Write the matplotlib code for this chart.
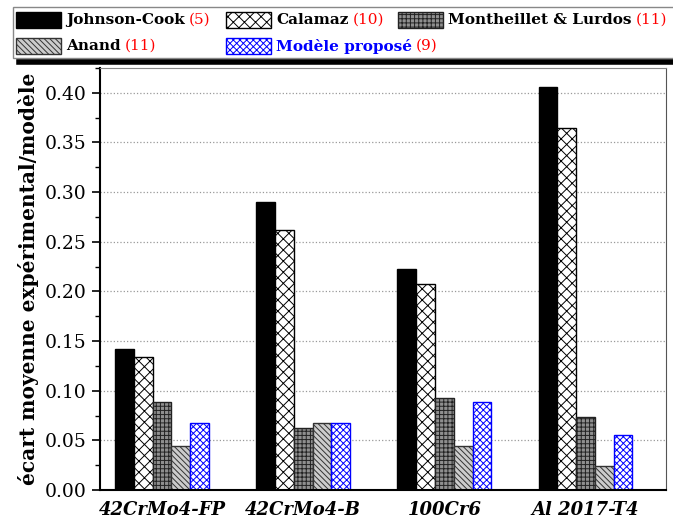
import numpy as np
import matplotlib.pyplot as plt
from matplotlib.patches import Rectangle
from matplotlib.lines import Line2D
from matplotlib.ticker import MultipleLocator, FormatStrFormatter

plt.rcParams['hatch.linewidth'] = 0.7

materials = ['42CrMo4-FP', '42CrMo4-B', '100Cr6', 'Al 2017-T4']
models = ['Johnson-Cook', 'Calamaz', 'Montheillet & Lurdos', 'Anand', 'Modèle proposé']
refs = ['(5)', '(10)', '(11)', '(11)', '(9)']

johnson_cook = [0.142, 0.290, 0.223, 0.406]
calamaz = [0.134, 0.262, 0.207, 0.365]
montheillet = [0.089, 0.062, 0.093, 0.074]
anand = [0.044, 0.067, 0.044, 0.024]
propose = [0.067, 0.067, 0.089, 0.055]

series = [johnson_cook, calamaz, montheillet, anand, propose]
styles = [
    dict(facecolor='black', edgecolor='black', hatch=None),
    dict(facecolor='white', edgecolor='black', hatch='xxx'),
    dict(facecolor='#8f8f8f', edgecolor='#222222', hatch='++++'),
    dict(facecolor='#cccccc', edgecolor='#333333', hatch='\\' * 6),
    dict(facecolor='white', edgecolor='blue', hatch='xxxxx'),
]

W, H = 673, 522
fig = plt.figure(figsize=(6.73, 5.22), dpi=100)
ax = fig.add_axes([100/W, 1-490/H, 566/W, 422/H])

x = np.arange(len(materials))
w = 0.133
for i, (vals, st) in enumerate(zip(series, styles)):
    ax.bar(x + (i - 2) * w, vals, w, linewidth=1.0, **st)

ax.set_xlim(-0.44, 3.57)
ax.set_ylim(0, 0.425)
ax.yaxis.set_major_locator(MultipleLocator(0.05))
ax.yaxis.set_minor_locator(MultipleLocator(0.025))
ax.yaxis.set_major_formatter(FormatStrFormatter('%.2f'))
ax.set_xticks(x)
ax.set_xticklabels(materials, family='DejaVu Serif', fontweight='bold',
                   style='italic', fontsize=13)
ax.tick_params(axis='x', length=0, pad=8)
ax.tick_params(axis='y', which='major', length=6, width=1.2, labelsize=13.5)
ax.tick_params(axis='y', which='minor', length=3.5, width=1.0)
for lab in ax.get_yticklabels():
    lab.set_family('DejaVu Serif')
ax.yaxis.grid(True, linestyle=':', color='#999999', linewidth=0.9)
ax.set_axisbelow(True)
ax.set_ylabel('écart moyenne expérimental/modèle', family='DejaVu Serif',
              fontweight='bold', fontsize=14.5, labelpad=4)
ax.spines['left'].set_linewidth(1.5)
ax.spines['bottom'].set_linewidth(1.5)
ax.spines['top'].set_color('#888888')
ax.spines['right'].set_color('#555555')

# legend box on top of the figure
fig.patches.append(Rectangle((13/W, 1-58/H), 670/W, 51/H, transform=fig.transFigure,
                             facecolor='white', edgecolor='#888888', lw=1.0))
fig.lines.append(Line2D([19/W, 1], [1-61.5/H, 1-61.5/H], transform=fig.transFigure,
                        color='black', lw=4))

pos = [(16, 20), (226, 20), (398, 20), (16, 46), (226, 46)]
fig.canvas.draw()
renderer = fig.canvas.get_renderer()
for (px, py), name, ref, st in zip(pos, models, refs, styles):
    fig.patches.append(Rectangle((px/W, 1-(py+8)/H), 45/W, 16/H, transform=fig.transFigure,
                                 lw=1.0, **st))
    col = 'blue' if name.startswith('Mod') else 'black'
    t = fig.text((px+50)/W, 1-py/H, name, ha='left', va='center', fontsize=11,
                 family='DejaVu Serif', fontweight='bold', color=col)
    bb = t.get_window_extent(renderer)
    fig.text(bb.x1/W + 4/W, 1-py/H, ref, ha='left', va='center', fontsize=11,
             family='DejaVu Serif', color='red')

fig.savefig('out.png', dpi=100)
